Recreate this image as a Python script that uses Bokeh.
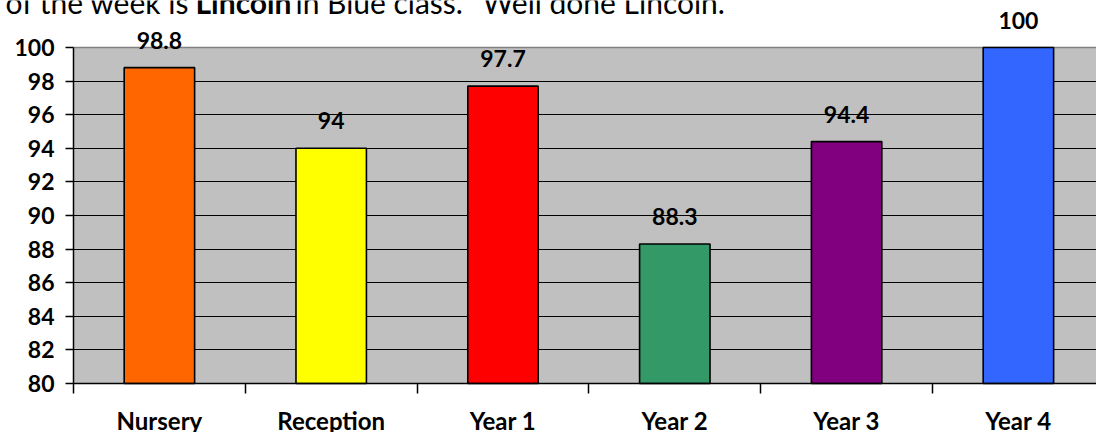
from bokeh.plotting import figure
from bokeh.models import (ColumnDataSource, Range1d, FixedTicker, LabelSet, Label, Grid,
                          BoxAnnotation)
from bokeh.core.properties import value
from bokeh.embed import file_html
from bokeh.resources import INLINE

categories = ["Nursery", "Reception", "Year 1", "Year 2", "Year 3", "Year 4"]
values = [98.8, 94, 97.7, 88.3, 94.4, 100]
value_labels = ["98.8", "94", "97.7", "88.3", "94.4", "100"]
colors = ["#FF6600", "#FFFF00", "#FF0000", "#339966", "#800080", "#3366FF"]
y_ticks = [80, 82, 84, 86, 88, 90, 92, 94, 96, 98, 100]
heading_parts = ["of the week is", "Lincoln", "in Blue class.", "Well done Lincoln."]
heading_bold = [False, True, False, False]

FONT = "Lato"
W, H = 1096, 432
PLOT_L, PLOT_T, PLOT_B = 73, 47, 383      # plot-area edges in pixels
CAT_W = 171.8                              # pixels per category
PX_PER_UNIT = (PLOT_B - PLOT_T) / (y_ticks[-1] - y_ticks[0])

idx = list(range(len(categories)))
x_lo = -0.5
x_start = x_lo - PLOT_L / CAT_W
x_end = x_lo + (W - PLOT_L) / CAT_W
y_start = y_ticks[0] - (H - PLOT_B) / PX_PER_UNIT
y_end = y_ticks[-1] + PLOT_T / PX_PER_UNIT

src = ColumnDataSource(dict(x=idx, top=values, label=value_labels, color=colors,
                            cat=categories, base=[y_ticks[0]] * len(categories)))

p = figure(width=W, height=H, output_backend="svg", toolbar_location=None,
           x_range=Range1d(x_start, x_end), y_range=Range1d(y_start, y_end),
           min_border=0)
p.background_fill_color = "white"
p.border_fill_color = "white"
p.outline_line_color = None

# grey plot area
p.add_layout(BoxAnnotation(left=x_lo, right=x_end, bottom=y_ticks[0], top=y_ticks[-1],
                           fill_color="#C0C0C0", fill_alpha=1, line_color=None,
                           level="image"))

# grids
p.xgrid.visible = False
p.ygrid.ticker = FixedTicker(ticks=y_ticks[1:-1])
p.ygrid.grid_line_color = "black"
p.ygrid.grid_line_width = 1.2
top_grid = Grid(dimension=1, ticker=FixedTicker(ticks=[y_ticks[-1]]),
                grid_line_color="#808080", grid_line_width=1.5)
p.add_layout(top_grid)
for g in (p.ygrid[0], top_grid):
    g.cross_bounds = (x_lo, x_end)

p.vbar(x="x", top="top", bottom=y_ticks[0], width=0.41, source=src,
       fill_color="color", line_color="black", line_width=1.6)

# y axis
ya = p.yaxis[0]
ya.fixed_location = x_lo
ya.bounds = (y_ticks[0], y_ticks[-1])
ya.ticker = FixedTicker(ticks=y_ticks)
ya.axis_line_color = "black"
ya.axis_line_width = 1.5
ya.major_tick_line_color = "black"
ya.major_tick_line_width = 1.5
ya.major_tick_out = 8
ya.major_tick_in = 0
ya.minor_tick_line_color = None
ya.major_label_standoff = 11
ya.major_label_text_font = FONT
ya.major_label_text_font_style = "bold"
ya.major_label_text_font_size = "23px"
ya.major_label_text_color = "black"

# x axis: tick marks between categories
xa = p.xaxis[0]
xa.fixed_location = y_ticks[0]
xa.bounds = (x_lo, x_end)
xa.ticker = FixedTicker(ticks=idx, minor_ticks=[i - 0.5 for i in range(len(categories) + 1)])
xa.axis_line_color = "black"
xa.axis_line_width = 1.5
xa.major_tick_line_color = None
xa.major_tick_out = 0
xa.major_tick_in = 0
xa.minor_tick_line_color = "black"
xa.minor_tick_line_width = 1.5
xa.minor_tick_out = 10
xa.minor_tick_in = 0
xa.major_label_standoff = 0
xa.major_label_text_font_size = "0px"
xa.major_label_text_color = None

cat_labels = LabelSet(x="x", y="base", text="cat", source=src, y_offset=-46,
                      text_align="center", text_baseline="alphabetic",
                      text_font=value(FONT), text_font_style="bold", text_font_size="24px",
                      text_color="black")
p.add_layout(cat_labels)

labels = LabelSet(x="x", y="top", text="label", source=src, y_offset=19,
                  text_align="center", text_baseline="alphabetic",
                  text_font=value(FONT), text_font_style="bold", text_font_size="23px",
                  text_color="black")
p.add_layout(labels)

# heading text partially cut at the top of the picture
offsets = [-68, 122, 222, 409]
for part, xo, bold in zip(heading_parts, offsets, heading_bold):
    p.add_layout(Label(x=x_lo, y=y_ticks[-1], x_offset=xo, y_offset=46, text=part,
                       text_font=FONT, text_font_style="bold" if bold else "normal",
                       text_font_size="30px", text_baseline="alphabetic",
                       text_color="black"))

open("out.html", "w").write(file_html(p, INLINE))
